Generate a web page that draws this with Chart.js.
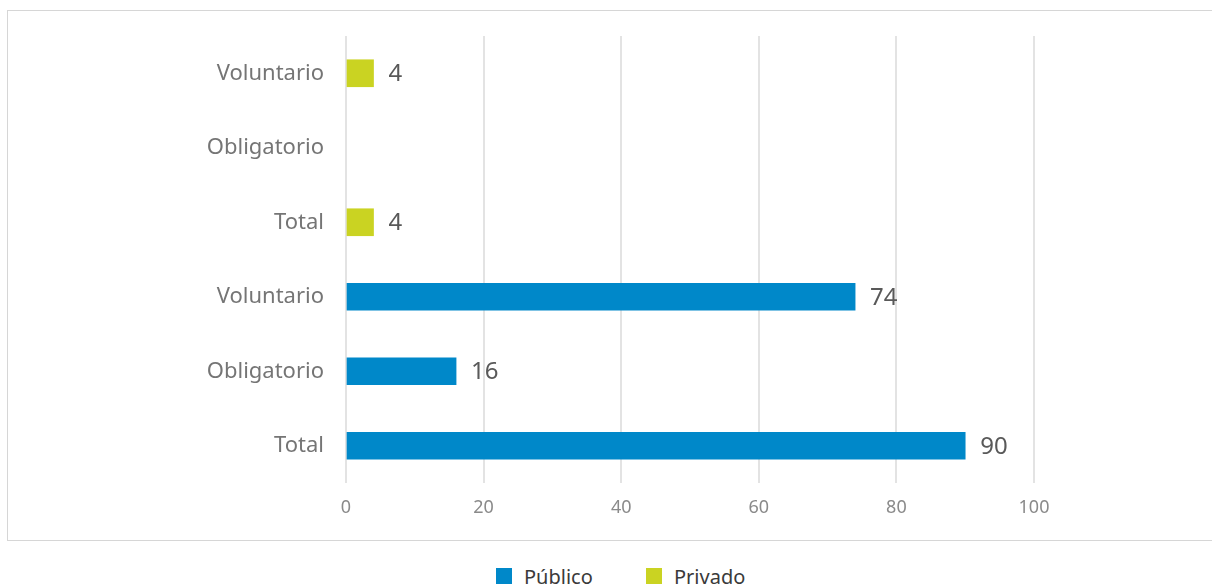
<!DOCTYPE html>
<html>
<head>
<meta charset="utf-8">
<script src="https://cdn.jsdelivr.net/npm/chart.js@4.4.0/dist/chart.umd.min.js"></script>
<style>
  html, body { margin: 0; padding: 0; background: #fff; overflow: hidden; }
  #wrap { position: relative; width: 1212px; height: 587px; }
  #box { position: absolute; left: 7px; top: 10px; width: 1230px; height: 529px; border: 1px solid #d6d6d6; pointer-events: none; }
  #chartHolder { position: absolute; left: 0; top: 0; width: 1212px; height: 540px; }
  #legend { position: absolute; left: 496px; top: 566px; display: flex; font-family: "Noto Sans", sans-serif; font-size: 20px; color: #3a3a3a; }
  .item { display: flex; align-items: center; width: 150px; height: 20px; }
  .sw { width: 16px; height: 16px; margin-right: 12px; }
</style>
</head>
<body>
<div id="wrap">
  <div id="box"></div>
  <div id="chartHolder"><canvas id="barChart"></canvas></div>
  <div id="legend"></div>
</div>
<script>
// Datos (de arriba hacia abajo)
const categorias = ['Voluntario', 'Obligatorio', 'Total', 'Voluntario', 'Obligatorio', 'Total'];
const publico = [null, null, null, 74, 16, 90];
const privado = [4, null, 4, null, null, null];
const ticksX = [0, 20, 40, 60, 80, 100];

const colorPublico = '#0088c9';
const colorPrivado = '#cad322';

// Etiquetas de valor al final de cada barra
const valueLabels = {
  id: 'valueLabels',
  afterDatasetsDraw(chart) {
    const ctx = chart.ctx;
    ctx.save();
    ctx.font = '24px "Noto Sans", sans-serif';
    ctx.fillStyle = '#595959';
    ctx.textAlign = 'left';
    ctx.textBaseline = 'middle';
    chart.data.datasets.forEach((ds, i) => {
      chart.getDatasetMeta(i).data.forEach((bar, j) => {
        if (ds.data[j] == null) return;
        ctx.fillText(ds.data[j], bar.x + 15, bar.y + 1);
      });
    });
    ctx.restore();
  }
};

const ctx = document.getElementById('barChart').getContext('2d');
const chart = new Chart(ctx, {
  type: 'bar',
  data: {
    labels: categorias,
    datasets: [
      { label: 'Público', data: publico, backgroundColor: colorPublico, barThickness: 27 },
      { label: 'Privado', data: privado, backgroundColor: colorPrivado, barThickness: 27 }
    ]
  },
  options: {
    indexAxis: 'y',
    responsive: true,
    maintainAspectRatio: false,
    animation: false,
    layout: { padding: { top: 36, right: 178, bottom: 0, left: 0 } },
    plugins: {
      legend: { display: false },
      tooltip: { enabled: false }
    },
    scales: {
      x: {
        stacked: true,
        min: 0,
        max: 100,
        afterBuildTicks: s => { s.ticks = ticksX.map(v => ({ value: v })); },
        afterFit: s => { s.height = 57; },
        grid: { color: '#e3e3e3', lineWidth: 2, drawTicks: false },
        border: { display: false },
        ticks: {
          padding: 14,
          color: '#8a8a8a',
          font: { family: '"Noto Sans", sans-serif', size: 18 }
        }
      },
      y: {
        stacked: true,
        afterFit: s => { s.width = 346; },
        grid: { display: false, drawTicks: false },
        border: { display: false },
        ticks: {
          padding: 22,
          color: '#757575',
          font: { family: '"Noto Sans", sans-serif', size: 22 }
        }
      }
    }
  },
  plugins: [valueLabels]
});

// Leyenda HTML con los datos del gráfico
const legend = document.getElementById('legend');
chart.data.datasets.forEach(ds => {
  const item = document.createElement('div');
  item.className = 'item';
  const sw = document.createElement('span');
  sw.className = 'sw';
  sw.style.background = ds.backgroundColor;
  const txt = document.createElement('span');
  txt.textContent = ds.label;
  item.appendChild(sw);
  item.appendChild(txt);
  legend.appendChild(item);
});
</script>
</body>
</html>
